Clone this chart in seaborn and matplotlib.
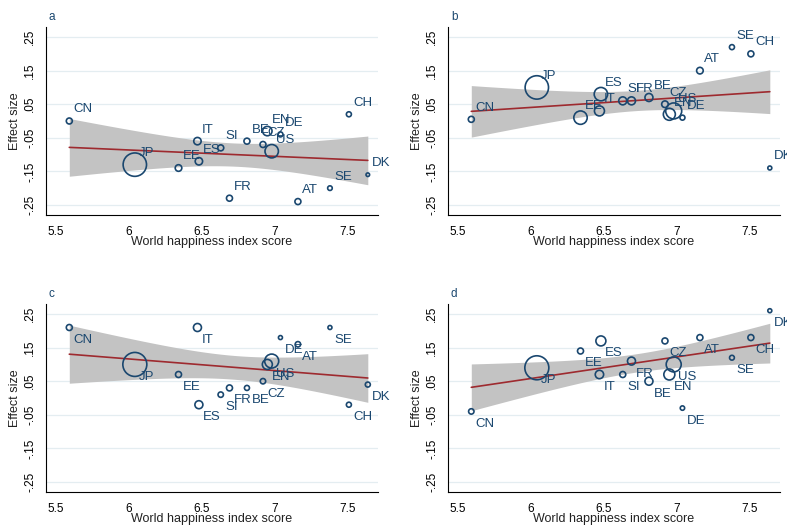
import numpy as np
import pandas as pd
import matplotlib
matplotlib.use("Agg")
import matplotlib.pyplot as plt
import seaborn as sns

# ---------------- data ----------------
countries = ["CN", "JP", "EE", "IT", "ES", "SI", "FR", "BE",
             "CZ", "EN", "US", "DE", "AT", "SE", "CH", "DK"]
happiness = [5.59, 6.04, 6.34, 6.47, 6.48, 6.63, 6.69, 6.81,
             6.92, 6.95, 6.98, 7.04, 7.16, 7.38, 7.51, 7.64]

effect_a = [0.00, -0.13, -0.14, -0.06, -0.12, -0.08, -0.23, -0.06,
            -0.07, -0.03, -0.09, -0.04, -0.24, -0.20, 0.02, -0.16]
effect_b = [0.005, 0.10, 0.01, 0.03, 0.08, 0.06, 0.06, 0.07,
            0.05, 0.02, 0.03, 0.01, 0.15, 0.22, 0.20, -0.14]
effect_c = [0.21, 0.10, 0.07, 0.21, -0.02, 0.01, 0.03, 0.03,
            0.05, 0.10, 0.11, 0.18, 0.16, 0.21, -0.02, 0.04]
effect_d = [-0.04, 0.09, 0.14, 0.07, 0.17, 0.07, 0.11, 0.05,
            0.17, 0.07, 0.10, -0.03, 0.18, 0.12, 0.18, 0.26]

# study weights (marker area is proportional to weight)
weight_a = [90, 1370, 109, 137, 137, 90, 90, 90, 90, 221, 449, 63, 90, 53, 63, 32]
weight_b = [90, 1370, 449, 250, 449, 160, 160, 160, 109, 360, 640, 63, 109, 63, 90, 40]
weight_c = [90, 1440, 90, 160, 160, 73, 90, 63, 73, 250, 490, 40, 73, 40, 63, 63]
weight_d = [73, 1440, 90, 176, 250, 90, 160, 160, 90, 303, 563, 48, 90, 58, 90, 40]

panel_letters = ["a", "b", "c", "d"]
x_ticks = [5.5, 6, 6.5, 7, 7.5]
x_ticklabels = ["5.5", "6", "6.5", "7", "7.5"]
y_ticks = [0.25, 0.15, 0.05, -0.05, -0.15, -0.25]
y_ticklabels = [".25", ".15", ".05", "-.05", "-.15", "-.25"]
x_title = "World happiness index score"
y_title = "Effect size"

# ---------------- style ----------------
sns.set_theme(style="white")
plt.rcParams["font.family"] = ["Liberation Sans", "DejaVu Sans"]

NAVY = "#1a476f"
MAROON = "#9e2a2f"
BAND = "#c3c3c3"
GRID = "#e4edf1"

W, H = 787, 526
fig = plt.figure(figsize=(W / 100, H / 100), dpi=100)

# axes boxes in pixels: left, top, width, height
boxes = [(46, 27, 332, 188), (448, 27, 332, 188),
         (46, 304, 332, 188), (448, 304, 332, 188)]
effects = [effect_a, effect_b, effect_c, effect_d]
weights = [weight_a, weight_b, weight_c, weight_d]
label_side = ["above", "above", "below", "below"]

VAR_SCALE = 0.2   # within-study variance = VAR_SCALE / weight
Z = 1.96


def meta_fit_ci(x, y, wt):
    """Random-effects meta-regression (method of moments) with 95% CI."""
    x = np.asarray(x, float)
    y = np.asarray(y, float)
    v = VAR_SCALE / np.asarray(wt, float)
    n = len(x)
    X = np.column_stack([np.ones(n), x])
    w = 1.0 / v
    A = X.T @ (w[:, None] * X)
    Ai = np.linalg.inv(A)
    b = Ai @ X.T @ (w * y)
    e = y - X @ b
    Q = np.sum(w * e ** 2)
    tr = w.sum() - np.trace(Ai @ (X.T @ ((w ** 2)[:, None] * X)))
    tau2 = max(0.0, (Q - (n - 2)) / tr)
    ws = 1.0 / (v + tau2)
    A2 = X.T @ (ws[:, None] * X)
    V = np.linalg.inv(A2)
    beta = V @ X.T @ (ws * y)
    xs = np.linspace(x.min(), x.max(), 200)
    Xs = np.column_stack([np.ones_like(xs), xs])
    yhat = Xs @ beta
    se = np.sqrt(np.einsum("ij,jk,ik->i", Xs, V, Xs))
    return xs, yhat, yhat - Z * se, yhat + Z * se


wmax = max(max(w) for w in weights)
smax = 0.207 * wmax

for i in range(4):
    l, t, w, h = boxes[i]
    ax = fig.add_axes([l / W, 1 - (t + h) / H, w / W, h / H])
    df = pd.DataFrame({"country": countries, "happiness": happiness,
                       "effect": effects[i], "weight": weights[i]})

    xs, yhat, lo, hi = meta_fit_ci(df["happiness"], df["effect"], df["weight"])
    ax.fill_between(xs, lo, hi, color=BAND, lw=0, zorder=1)
    sns.lineplot(x=xs, y=yhat, color=MAROON, lw=1.2, ax=ax, zorder=2)

    sns.scatterplot(data=df, x="happiness", y="effect", size="weight",
                    sizes=(0, smax), size_norm=(0, wmax), legend=False,
                    marker="o", ax=ax, zorder=3)
    coll = ax.collections[-1]
    coll.set_facecolor("none")
    coll.set_edgecolor(NAVY)
    coll.set_linewidth(1.2)

    dy = 8.3 if label_side[i] == "above" else -9.0
    for _, r in df.iterrows():
        ax.annotate(r["country"], (r["happiness"], r["effect"]),
                    xytext=(3.2, dy), textcoords="offset points",
                    ha="left", va="center", fontsize=9.5, color=NAVY,
                    annotation_clip=False, zorder=4)

    ax.set_xlim(5.43, 7.71)
    ax.set_ylim(-0.28, 0.28)
    ax.set_xticks(x_ticks)
    ax.set_xticklabels(x_ticklabels)
    ax.set_yticks(y_ticks)
    ax.set_yticklabels(y_ticklabels, rotation=90, va="center")
    ax.tick_params(axis="both", direction="out", length=5, width=0.8,
                   color="black", labelsize=8.5, labelcolor="black", pad=3)
    ax.tick_params(axis="y", pad=2)
    ax.yaxis.grid(True, color=GRID, lw=0.9)
    ax.xaxis.grid(False)
    ax.set_axisbelow(True)
    for sp in ["top", "right"]:
        ax.spines[sp].set_visible(False)
    for sp in ["left", "bottom"]:
        ax.spines[sp].set_color("black")
        ax.spines[sp].set_linewidth(0.8)

    ax.set_xlabel(x_title, fontsize=9, color="#222222")
    ax.set_ylabel(y_title, fontsize=9, color="#222222")
    ax.xaxis.set_label_coords(0.5, -0.11)
    ax.yaxis.set_label_coords(-0.075, 0.5)

    ax.text(0.009, 1.055, panel_letters[i], transform=ax.transAxes,
            ha="left", va="center", fontsize=8.5, color=NAVY)

fig.savefig("out.png", dpi=100)
